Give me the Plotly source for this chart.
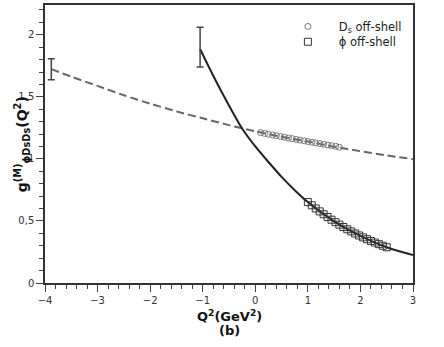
import plotly.graph_objects as go

# curva tracejada (D_s off-shell, ajuste)
q2_tracejada = [-3.88, -3.5, -3.0, -2.5, -2.0, -1.5, -1.0, -0.5, 0.0, 0.5, 1.0, 1.5, 2.0, 2.5, 3.0]
g_tracejada = [1.723, 1.662, 1.588, 1.513, 1.445, 1.383, 1.327, 1.272, 1.222, 1.178, 1.140, 1.098, 1.062, 1.028, 0.998]

# curva cheia (phi off-shell, ajuste)
q2_cheia = [-1.05, -0.8, -0.5, -0.25, 0.0, 0.25, 0.5, 0.75, 1.0, 1.5, 2.0, 2.5, 3.0]
g_cheia = [1.885, 1.670, 1.430, 1.245, 1.100, 0.975, 0.855, 0.748, 0.652, 0.497, 0.380, 0.288, 0.225]

# pontos D_s off-shell
q2_ds = [0.10, 0.18, 0.25, 0.33, 0.40, 0.48, 0.55, 0.63, 0.70, 0.78, 0.85,
         0.93, 1.00, 1.08, 1.15, 1.23, 1.30, 1.38, 1.45, 1.53, 1.60]
g_ds = [1.212, 1.205, 1.199, 1.192, 1.187, 1.180, 1.175, 1.168, 1.163, 1.157, 1.151,
        1.145, 1.140, 1.134, 1.129, 1.123, 1.118, 1.112, 1.107, 1.101, 1.094]

# pontos phi off-shell
q2_phi = [1.000, 1.075, 1.150, 1.225, 1.300, 1.375, 1.450, 1.525, 1.600, 1.675, 1.750,
          1.825, 1.900, 1.975, 2.050, 2.125, 2.200, 2.275, 2.350, 2.425, 2.500]
g_phi = [0.652, 0.626, 0.601, 0.577, 0.554, 0.532, 0.510, 0.490, 0.470, 0.451, 0.433,
         0.416, 0.399, 0.383, 0.368, 0.353, 0.339, 0.326, 0.313, 0.300, 0.288]

# barras de erro nos extremos das curvas
q2_erro = [-3.88, -1.05]
g_erro = [1.722, 1.900]
erro = [0.085, 0.160]

fig = go.Figure()

fig.add_trace(go.Scatter(
    x=q2_tracejada, y=g_tracejada, mode="lines", showlegend=False,
    line=dict(color="#666666", width=2, dash="8px,4px", shape="spline", smoothing=0.8),
))
fig.add_trace(go.Scatter(
    x=q2_cheia, y=g_cheia, mode="lines", showlegend=False,
    line=dict(color="#222222", width=2, shape="spline", smoothing=0.8),
))
fig.add_trace(go.Scatter(
    x=q2_erro, y=g_erro, mode="markers", showlegend=False,
    marker=dict(size=1, color="rgba(0,0,0,0)"),
    error_y=dict(type="data", array=erro, color="#444444", thickness=1.5, width=3.5),
))
fig.add_trace(go.Scatter(
    x=q2_ds, y=g_ds, mode="markers", name="\u00a0\u00a0\u00a0D<sub>s</sub> off-shell", legend="legend",
    marker=dict(symbol="circle-open", size=6, color="#777777", line=dict(width=1)),
))
fig.add_trace(go.Scatter(
    x=q2_phi, y=g_phi, mode="markers", name="\u00a0\u00a0\u00a0ϕ off-shell", legend="legend2",
    marker=dict(symbol="square-open", size=7, color="#333333", line=dict(width=1)),
))

eixo = dict(
    showline=True, linecolor="#333333", linewidth=1.5, mirror=True, automargin=False,
    showgrid=False, zeroline=False, ticks="outside", ticklen=7,
    tickcolor="#444444", tickfont=dict(family="DejaVu Sans", size=10, color="#333333"),
)

caixa_legenda = dict(x=0.66, xanchor="left", yanchor="top",
                     bgcolor="rgba(0,0,0,0)", font=dict(size=11.5, color="#222222"))

fig.update_layout(
    width=444, height=347,
    plot_bgcolor="white", paper_bgcolor="white",
    separators=", ",
    margin=dict(l=45, r=31, t=5, b=64),
    font=dict(family="DejaVu Sans", color="#111111"),
    xaxis=dict(
        eixo, range=[-4, 3], dtick=1,
        minor=dict(dtick=0.2, ticks="outside", ticklen=4, tickcolor="#444444"),
    ),
    yaxis=dict(
        eixo, range=[0, 2.24], dtick=0.5,
        minor=dict(dtick=0.1, ticks="outside", ticklen=4, tickcolor="#444444"),
    ),
    legend=dict(caixa_legenda, y=0.975),
    legend2=dict(caixa_legenda, y=0.92),
    annotations=[
        dict(text="<b>Q<sup>2</sup>(GeV<sup>2</sup>)</b>", xref="paper", yref="paper",
             x=0.5, y=-0.118, xanchor="center", yanchor="middle", showarrow=False,
             font=dict(size=13)),
        dict(text="<b>(b)</b>", xref="paper", yref="paper",
             x=0.5, y=-0.172, xanchor="center", yanchor="middle", showarrow=False,
             font=dict(size=13)),
        dict(text="<b>g<sup>(M)</sup><sub>ϕDsDs</sub>(Q<sup>2</sup>)</b>", xref="paper", yref="paper",
             x=-0.062, y=0.5, xanchor="center", yanchor="middle", showarrow=False,
             textangle=-90, font=dict(size=14)),
    ],
)

fig.write_html("out.html", config={"displayModeBar": False},
               post_script="document.body.style.margin='0px';")
